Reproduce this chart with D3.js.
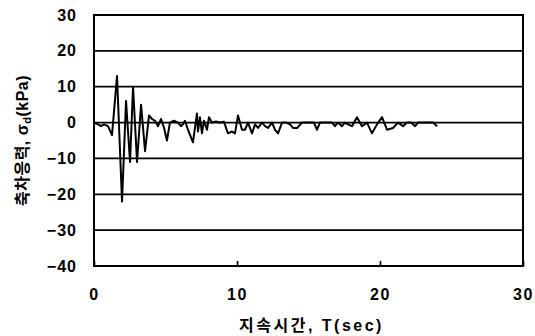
<!DOCTYPE html>
<html>
<head>
<meta charset="utf-8">
<script src="https://cdn.jsdelivr.net/npm/d3@7"></script>
<style>
  html, body { margin: 0; padding: 0; background: #fff; }
  svg { display: block; }
  .tick-label { font-family: "Liberation Sans", Arial, sans-serif; font-size: 16px; font-weight: bold; fill: #000; }
  .axis-title { font-family: "Liberation Sans", "Noto Sans CJK KR", sans-serif; font-size: 16px; font-weight: bold; fill: #000; }
</style>
</head>
<body>
<svg id="chart" width="535" height="336"></svg>
<script>
// Time history of deviator stress (sec, kPa)
const timeSec = [0.00, 0.28, 0.49, 0.70, 0.98, 1.26, 1.61, 1.96, 2.24, 2.52, 2.73, 3.01, 3.29, 3.57, 3.85,
  4.06, 4.27, 4.48, 4.69, 4.90, 5.10, 5.31, 5.59, 5.87, 6.08, 6.22, 6.36, 6.57, 6.92, 7.20, 7.27, 7.41,
  7.55, 7.69, 7.90, 8.04, 8.25, 8.53, 8.81, 9.09, 9.37, 9.65, 9.86, 10.07, 10.35, 10.56, 10.77, 11.05,
  11.26, 11.47, 11.75, 11.96, 12.17, 12.45, 12.66, 12.87, 13.15, 13.43, 13.71, 13.92, 14.20, 14.55,
  14.83, 15.10, 15.38, 15.59, 15.80, 16.08, 16.36, 16.64, 16.85, 17.06, 17.34, 17.55, 17.76, 18.04,
  18.39, 18.74, 19.09, 19.44, 19.79, 20.14, 20.49, 20.91, 21.26, 21.61, 21.89, 22.17, 22.45, 22.66,
  22.94, 23.22, 23.50, 23.71, 23.99];
const stressKPa = [0, -0.5, -1, -0.5, -1, -3.5, 13, -22, 6, -11, 10, -11, 5, -8, 2,
  1, 0.5, -1, 1, -1.5, -5, 0, 0.5, 0, -1, -0.5, 0.5, -2, -5.5, 2.5, -2.5, 1.5,
  -3, 0.5, -2, 1.5, 0, 0.3, 0, 0.2, -3, -2.5, -3, 2, -2, -2, 0, -3,
  -0.5, -1.5, 0, -1, -1.5, 0, -2, -3, 0, 0, -0.5, -1.5, -1.5, 0,
  0, 0, 0, -2, 0, 0, 0, 0, -1, 0, -1, 0, -0.5, -1,
  1.5, -1, 0, -3, -0.5, 1.5, -2, -1.5, 0, -1, 0, 0, -1, 0,
  0, 0, 0, 0, -1];

const xTicks = [0, 10, 20, 30];
const yTicks = [-40, -30, -20, -10, 0, 10, 20, 30];
const xTitle = "지속시간, T(sec)";
const yTitleMain = "축차응력, σ";
const yTitleSub = "d";
const yTitleUnit = "(kPa)";

const svg = d3.select("#chart");
const m = { left: 94, top: 15, right: 12, bottom: 70 };
const W = 535, H = 336;
const x = d3.scaleLinear().domain([0, 30]).range([m.left, W - m.right]);
const y = d3.scaleLinear().domain([-40, 30]).range([H - m.bottom, m.top]);

// horizontal gridlines
svg.append("g").selectAll("line")
  .data(yTicks.filter(v => v > -40 && v < 30))
  .join("line")
  .attr("x1", x(0)).attr("x2", x(30))
  .attr("y1", d => y(d)).attr("y2", d => y(d))
  .attr("stroke", "#000").attr("stroke-width", 1.7);

// data trace
const pts = timeSec.map((t, i) => [t, stressKPa[i]]);
svg.append("path")
  .datum(pts)
  .attr("fill", "none")
  .attr("stroke", "#000")
  .attr("stroke-width", 2)
  .attr("stroke-linejoin", "round")
  .attr("d", d3.line().x(d => x(d[0])).y(d => y(d[1])));

// plot frame
svg.append("rect")
  .attr("x", x(0)).attr("y", y(30))
  .attr("width", x(30) - x(0)).attr("height", y(-40) - y(30))
  .attr("fill", "none").attr("stroke", "#000").attr("stroke-width", 2);

// x axis: inward ticks on the bottom edge
const xAxis = d3.axisBottom(x).tickValues(xTicks).tickSize(-5).tickPadding(23).tickFormat(d3.format("d"));
const gx = svg.append("g").attr("transform", `translate(0,${y(-40)})`).call(xAxis);
gx.select(".domain").remove();
gx.selectAll(".tick line").attr("stroke", "#000").attr("stroke-width", 1.7);
gx.selectAll(".tick text").attr("class", "tick-label").attr("fill", "#000").style("letter-spacing", "1.5px");

// y axis labels
const yAxis = d3.axisLeft(y).tickValues(yTicks).tickSize(0).tickPadding(17).tickFormat(d => d < 0 ? "\u2212" + Math.abs(d) : d);
const gy = svg.append("g").attr("transform", `translate(${x(0)},0)`).call(yAxis);
gy.select(".domain").remove();
gy.selectAll(".tick text").attr("class", "tick-label").attr("fill", "#000").style("letter-spacing", "1px");

// axis titles
svg.append("text")
  .attr("class", "axis-title")
  .attr("x", (x(0) + x(30)) / 2 + 3).attr("y", 331)
  .attr("text-anchor", "middle")
  .style("letter-spacing", "2.5px")
  .text(xTitle);

const yt = svg.append("text")
  .attr("class", "axis-title")
  .attr("transform", `translate(28,${(y(30) + y(-40)) / 2}) rotate(-90)`)
  .attr("text-anchor", "middle")
  .style("letter-spacing", "0.5px");
yt.append("tspan").text(yTitleMain);
yt.append("tspan").attr("font-size", "11px").attr("dy", 3).text(yTitleSub);
yt.append("tspan").attr("dy", -3).text(yTitleUnit);
</script>
</body>
</html>
